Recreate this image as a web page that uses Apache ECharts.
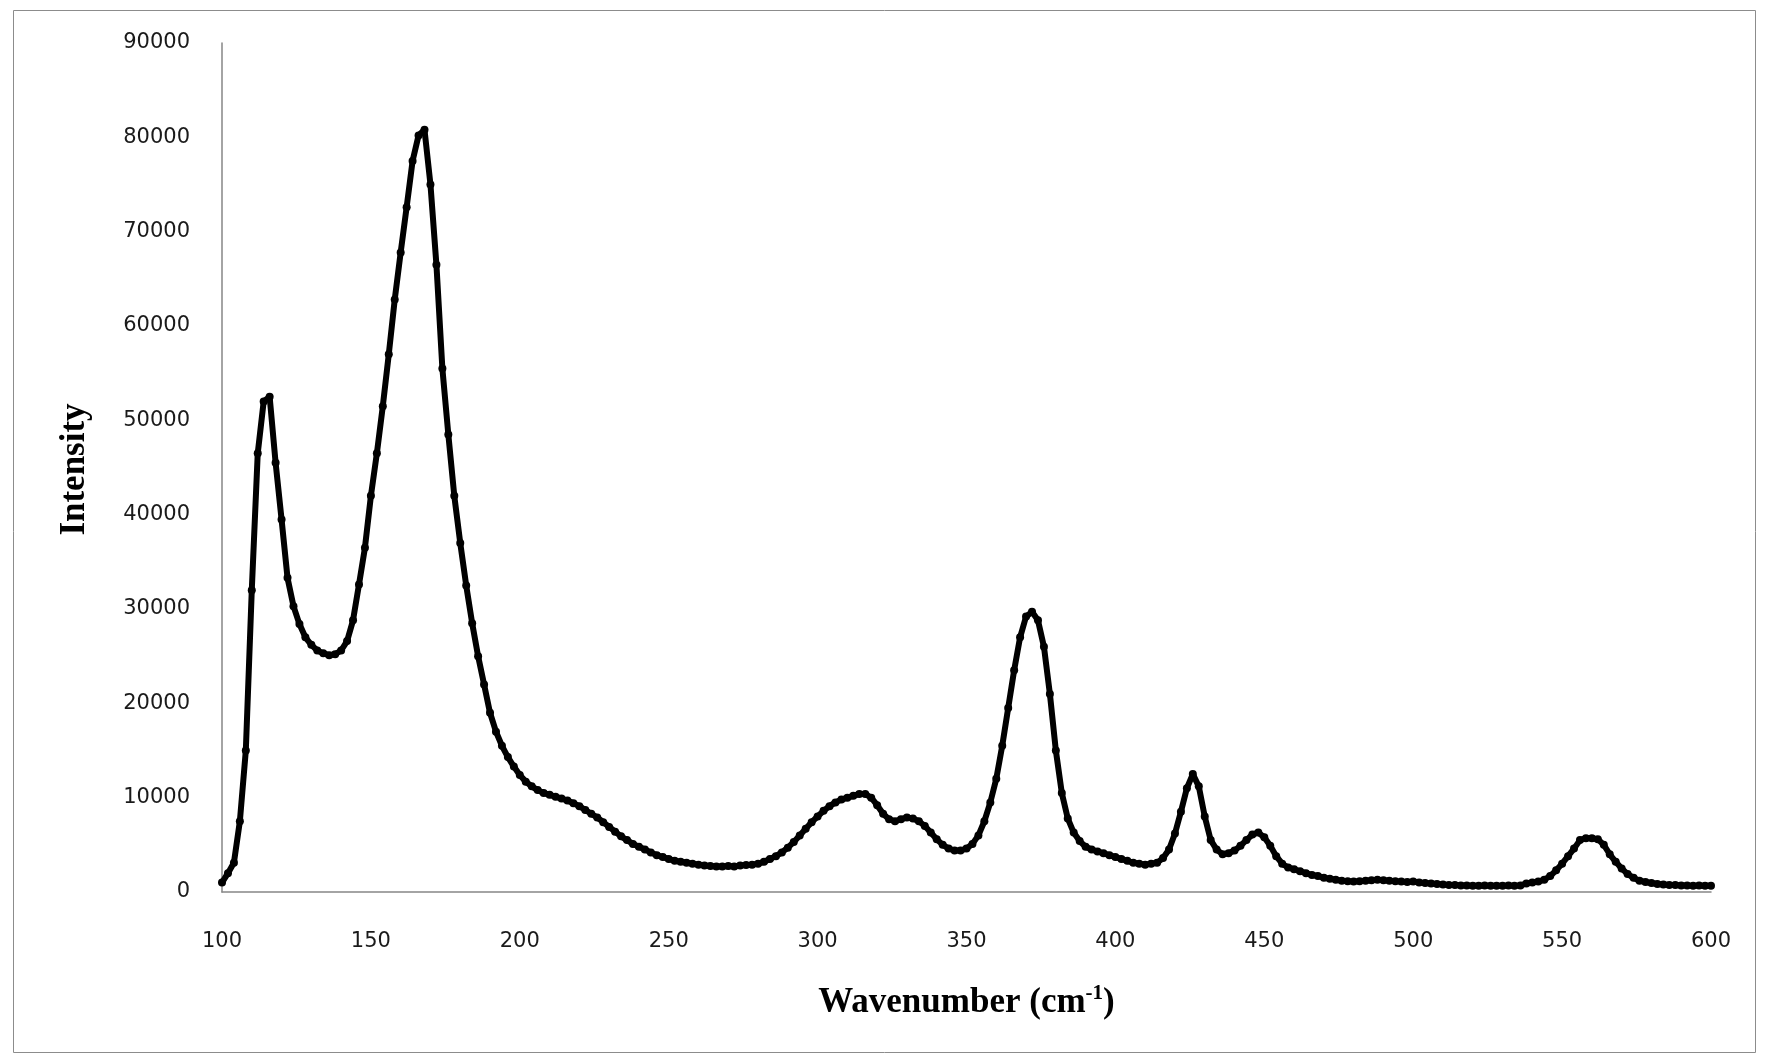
<!DOCTYPE html>
<html>
<head>
<meta charset="utf-8">
<script src="https://cdn.jsdelivr.net/npm/echarts@6/dist/echarts.min.js"></script>
<style>
html,body{margin:0;padding:0;background:#fff;}
#chart{width:1765px;height:1058px;}
</style>
</head>
<body>
<div id="chart"></div>
<script>
// Wavenumber (cm-1), step 2
const wavenumbers = [];
for (let w = 100; w <= 600; w += 2) wavenumbers.push(w);

const intensities = [
  1000, 2000, 3100, 7500, 15000, 32000, 46500, 52000, 52500, 45500,   // 100-118
  39500, 33300, 30300, 28400, 27000, 26200, 25600, 25300, 25100, 25200, // 120-138
  25600, 26600, 28800, 32600, 36500, 42000, 46500, 51500, 57000, 62800, // 140-158
  67800, 72600, 77500, 80200, 80800, 75000, 66500, 55500, 48500, 42000, // 160-178
  37000, 32500, 28500, 25000, 22000, 19000, 17000, 15500, 14300, 13300, // 180-198
  12400, 11700, 11200, 10800, 10500, 10300, 10100, 9900, 9700, 9400,    // 200-218
  9100, 8700, 8300, 7900, 7400, 6900, 6400, 5900, 5500, 5100,           // 220-238
  4800, 4500, 4200, 3900, 3700, 3500, 3300, 3200, 3100, 3000,           // 240-258
  2900, 2800, 2750, 2700, 2700, 2750, 2700, 2800, 2850, 2900,           // 260-278
  3000, 3200, 3500, 3800, 4200, 4700, 5300, 6000, 6700, 7400,           // 280-298
  8000, 8600, 9100, 9500, 9800, 10000, 10200, 10400, 10400, 10000,      // 300-318
  9200, 8300, 7700, 7500, 7700, 7900, 7800, 7500, 7000, 6300,           // 320-338
  5600, 5000, 4600, 4400, 4400, 4600, 5100, 6000, 7500, 9500,           // 340-358
  12000, 15500, 19500, 23500, 27000, 29200, 29700, 28800, 26000, 21000, // 360-378
  15000, 10500, 7800, 6300, 5400, 4800, 4500, 4300, 4100, 3900,         // 380-398
  3700, 3500, 3300, 3100, 3000, 2900, 3000, 3100, 3600, 4500,           // 400-418
  6200, 8500, 11000, 12500, 11200, 8000, 5500, 4500, 4000, 4100,        // 420-438
  4400, 4900, 5500, 6100, 6300, 5800, 4900, 3800, 3000, 2600,           // 440-458
  2400, 2200, 2000, 1800, 1700, 1500, 1400, 1300, 1200, 1150,           // 460-478
  1100, 1150, 1200, 1250, 1300, 1250, 1200, 1150, 1100, 1050,           // 480-498
  1100, 1000, 950, 900, 850, 800, 750, 750, 700, 700,                   // 500-518
  650, 650, 700, 650, 650, 650, 700, 650, 700, 900,                     // 520-538
  1000, 1100, 1300, 1700, 2300, 3000, 3800, 4600, 5500, 5700,           // 540-558
  5700, 5600, 5000, 4000, 3200, 2500, 1900, 1500, 1200, 1050,           // 560-578
  950, 850, 800, 750, 750, 700, 700, 650, 700, 650,                     // 580-598
  650                                                                   // 600
];

const xTicks = [100, 150, 200, 250, 300, 350, 400, 450, 500, 550, 600];
const yTicks = [0, 10000, 20000, 30000, 40000, 50000, 60000, 70000, 80000, 90000];

const seriesData = wavenumbers.map((w, i) => [w, intensities[i]]);

const chart = echarts.init(document.getElementById('chart'), null, {renderer: 'canvas'});
chart.setOption({
  backgroundColor: '#ffffff',
  animation: false,
  graphic: [{
    type: 'rect',
    shape: {x: 13.5, y: 10.5, width: 1742, height: 1042},
    style: {fill: 'none', stroke: '#8c8c8c', lineWidth: 1},
    silent: true, z: -1
  }],
  grid: {left: 222, right: 54, top: 43, bottom: 166, containLabel: false},
  xAxis: {
    type: 'value',
    min: xTicks[0], max: xTicks[xTicks.length - 1], interval: 50,
    name: 'Wavenumber (cm{sup|-1})',
    nameLocation: 'middle',
    nameGap: 91,
    nameTextStyle: {
      fontFamily: 'Liberation Serif', fontWeight: 'bold', fontSize: 35, color: '#000',
      rich: {sup: {fontFamily: 'Liberation Serif', fontWeight: 'bold', fontSize: 21, color: '#000', verticalAlign: 'top', padding: [0, 0, 18, 0]}}
    },
    axisLine: {show: true, onZero: false, lineStyle: {color: '#868686', width: 1.5}},
    axisTick: {show: false},
    splitLine: {show: false},
    axisLabel: {margin: 39, fontFamily: 'DejaVu Sans', fontSize: 21, color: '#1a1a1a', formatter: v => String(v)}
  },
  yAxis: {
    type: 'value',
    min: yTicks[0], max: yTicks[yTicks.length - 1], interval: 10000,
    name: 'Intensity',
    nameLocation: 'middle',
    nameGap: 130,
    nameRotate: 90,
    nameTextStyle: {fontFamily: 'Liberation Serif', fontWeight: 'bold', fontSize: 35, color: '#000', padding: [0, 4, 0, 0]},
    axisLine: {show: true, lineStyle: {color: '#868686', width: 1.5}},
    axisTick: {show: false},
    splitLine: {show: false},
    axisLabel: {margin: 32, fontFamily: 'DejaVu Sans', fontSize: 21, color: '#1a1a1a', formatter: v => String(v)}
  },
  series: [{
    type: 'line',
    data: seriesData,
    showSymbol: true,
    symbol: 'circle',
    symbolSize: 8,
    itemStyle: {color: '#000'},
    lineStyle: {color: '#000', width: 6},
    smooth: false
  }]
});
</script>
</body>
</html>
